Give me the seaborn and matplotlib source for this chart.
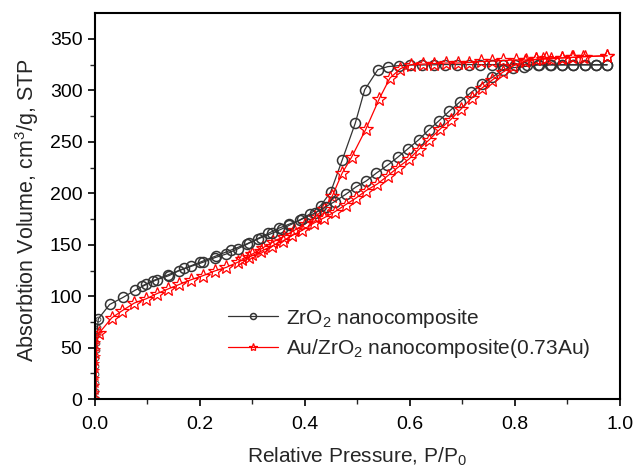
import matplotlib
matplotlib.use("Agg")
import matplotlib.pyplot as plt
import seaborn as sns
import numpy as np

# ---- data ----
# ZrO2 nanocomposite
zr_low_x = [0.0015, 0.0018, 0.002, 0.0022, 0.0025, 0.0028, 0.003, 0.0035, 0.004, 0.005, 0.0063]
zr_low_y = [1, 8, 16, 24, 32, 40, 48, 55, 62, 70, 78]
zr_ads_x = [0.0063, 0.028, 0.054, 0.076, 0.098, 0.118, 0.141, 0.161, 0.183, 0.206, 0.228, 0.25,
            0.272, 0.294, 0.316, 0.337, 0.357, 0.37, 0.395, 0.42, 0.44, 0.457, 0.478, 0.497,
            0.517, 0.536, 0.557, 0.577, 0.596, 0.617, 0.636, 0.656, 0.675, 0.696, 0.717, 0.737,
            0.757, 0.777, 0.797, 0.817, 0.844, 0.869, 0.89, 0.911, 0.933, 0.955, 0.976]
zr_ads_y = [78, 92, 99, 105.7, 111.5, 116, 120, 125, 129, 133, 137.4, 141,
            146, 151.6, 156.8, 161, 165.6, 168.8, 175, 181, 187, 192, 199, 206,
            212, 219.5, 227, 235, 243, 252, 261.5, 270.6, 279.6, 289, 298, 306,
            312.6, 320, 322, 323, 324.6, 324.6, 324.6, 324.6, 324.6, 324.6, 324.6]
zr_des_x = [0.976, 0.955, 0.933, 0.911, 0.89, 0.868, 0.846, 0.824, 0.80, 0.778, 0.756, 0.734,
            0.712, 0.689, 0.668, 0.646, 0.623, 0.601, 0.579, 0.558, 0.539, 0.514, 0.496, 0.471,
            0.449, 0.43, 0.41, 0.39, 0.37, 0.35, 0.33, 0.31, 0.29, 0.26, 0.23, 0.2, 0.17,
            0.14, 0.11, 0.09]
zr_des_y = [325, 325, 325, 325, 325, 325, 325, 325, 325, 325, 325, 325,
            325, 325, 325, 324.8, 324.6, 324.5, 324, 323, 320, 300.5, 268, 232,
            201, 188, 180, 174, 170, 166, 161, 156, 151, 145, 139, 133, 127,
            121, 115, 110]

# Au/ZrO2 nanocomposite (0.73Au)
au_low_x = [0.0015, 0.0018, 0.002, 0.0022, 0.0025, 0.0028, 0.003, 0.0035, 0.004, 0.0076]
au_low_y = [1, 7, 14, 21, 28, 35, 42, 49, 56, 64]
au_ads_x = [0.0076, 0.032, 0.052, 0.075, 0.098, 0.118, 0.139, 0.161, 0.183, 0.206, 0.228, 0.25,
            0.272, 0.294, 0.316, 0.338, 0.359, 0.376, 0.395, 0.417, 0.436, 0.457, 0.478, 0.498,
            0.517, 0.538, 0.558, 0.577, 0.598, 0.617, 0.637, 0.657, 0.678, 0.698, 0.718, 0.737,
            0.757, 0.777, 0.797, 0.82, 0.84, 0.86, 0.89, 0.91, 0.93, 0.976]
au_ads_y = [64, 79, 86, 93.4, 97.6, 102.5, 107, 111.5, 116, 120, 124.5, 128,
            133, 138, 143.5, 149, 154, 159, 164, 171, 176, 182, 189, 195.6,
            202.7, 209, 217, 225, 233, 242.5, 252, 262, 271.6, 282, 292.6, 302,
            310, 317.5, 324, 328, 330, 331, 331.5, 332, 332.7, 333.6]
au_des_x = [0.976, 0.933, 0.911, 0.89, 0.87, 0.854, 0.841, 0.822, 0.802, 0.778, 0.757, 0.736,
            0.713, 0.691, 0.669, 0.647, 0.625, 0.603, 0.582, 0.562, 0.542, 0.516, 0.489, 0.471,
            0.452, 0.436, 0.42, 0.40, 0.38, 0.36, 0.34, 0.32, 0.30, 0.28]
au_des_y = [333.6, 332.7, 332, 331.5, 330.6, 330.3, 330, 329.5, 329.5, 329, 328.5, 328,
            327, 326.5, 326.5, 326, 325.5, 325, 321, 311.8, 292, 262, 235, 219.5,
            197, 185, 177, 170, 164, 158, 153, 147, 141, 136]

labels = ["ZrO$_2$ nanocomposite", "Au/ZrO$_2$ nanocomposite(0.73Au)"]
x_ticks = [0.0, 0.2, 0.4, 0.6, 0.8, 1.0]
y_ticks = [0, 50, 100, 150, 200, 250, 300, 350]

# ---- style ----
sns.set_style("ticks")
plt.rcParams["font.family"] = ["Liberation Sans", "DejaVu Sans"]
plt.rcParams["mathtext.fontset"] = "custom"
plt.rcParams["mathtext.rm"] = "Liberation Sans"
plt.rcParams["mathtext.it"] = "Liberation Sans:italic"

fig = plt.figure(figsize=(6.33, 4.68), dpi=100)
ax = fig.add_axes([0.150, 0.147, 0.829, 0.825])

black = "#333333"
red = "#ff0000"

common_zr = dict(marker="o", markerfacecolor="none", markeredgecolor=black, color=black,
                 linewidth=0.9, markeredgewidth=1.1, markersize=7.2)
common_au = dict(marker="*", markerfacecolor="none", markeredgecolor=red, color=red,
                 linewidth=0.9, markeredgewidth=0.9, markersize=10)

sns.lineplot(x=zr_low_x, y=zr_low_y, sort=False, estimator=None, ax=ax,
             **{**common_zr, "markersize": 3.5, "markeredgewidth": 0.6})
sns.lineplot(x=au_low_x, y=au_low_y, sort=False, estimator=None, ax=ax,
             **{**common_au, "markersize": 4, "markeredgewidth": 0.6})
sns.lineplot(x=zr_des_x, y=zr_des_y, sort=False, estimator=None, ax=ax, **common_zr)
sns.lineplot(x=au_des_x, y=au_des_y, sort=False, estimator=None, ax=ax, **common_au)
sns.lineplot(x=zr_ads_x, y=zr_ads_y, sort=False, estimator=None, ax=ax, label=labels[0], **common_zr)
sns.lineplot(x=au_ads_x, y=au_ads_y, sort=False, estimator=None, ax=ax, label=labels[1], **common_au)

ax.set_xlim(0, 1.0)
ax.set_ylim(0, 375)
ax.set_xticks(x_ticks)
ax.set_xticklabels([f"{v:.1f}" for v in x_ticks])
ax.set_yticks(y_ticks)
ax.set_xticks(np.arange(0.1, 1.0, 0.2), minor=True)
ax.set_yticks(np.arange(25, 375, 50), minor=True)
ax.tick_params(axis="both", which="major", direction="out", length=5, width=1.2,
               labelsize=14, colors="black")
ax.tick_params(axis="x", which="major", pad=6.8)
ax.tick_params(axis="y", which="major", pad=4)
ax.tick_params(axis="both", which="minor", direction="out", length=3.5, width=1.0)
for s in ax.spines.values():
    s.set_visible(True)
    s.set_linewidth(1.5)
    s.set_color("black")

ax.set_xlabel("Relative Pressure, P/P$_0$", fontsize=15, labelpad=9.5)
ax.set_ylabel("Absorbtion Volume, cm$^3$/g, STP", fontsize=15.5, labelpad=6)
ax.yaxis.label.set_y(0.49)

leg = ax.legend(loc="upper left", bbox_to_anchor=(0.253, 0.24), frameon=False,
                fontsize=15, handlelength=2.4, handletextpad=0.4, labelspacing=0.35,
                borderaxespad=0, borderpad=0, markerscale=0.6)

fig.savefig("out.png", dpi=100)
